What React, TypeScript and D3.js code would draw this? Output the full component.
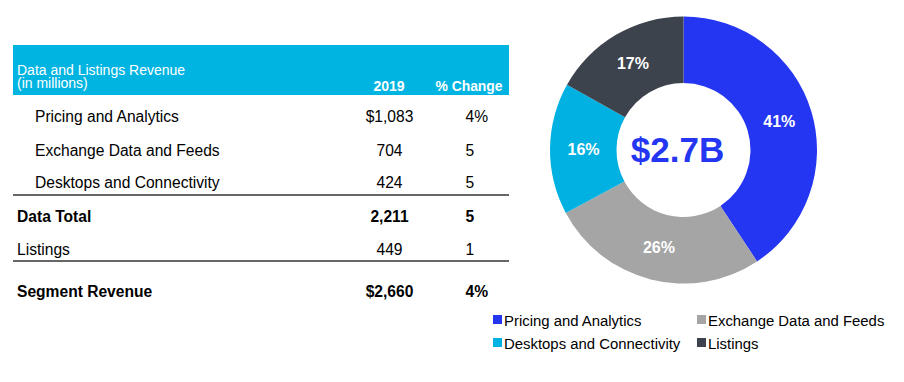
import React from "react";
import * as d3 from "d3";

const categories = ["Pricing and Analytics", "Exchange Data and Feeds", "Desktops and Connectivity", "Listings"];
const revenue2019 = [1083, 704, 424, 449];
const sliceColors = ["#2436F2", "#A5A5A5", "#00B1E1", "#3D434D"];
const centerLabel = "$2.7B";

const tableTitle = ["Data and Listings Revenue", "(in millions)"];
const tableHeaders = ["2019", "% Change"];
const rowLabels = ["Pricing and Analytics", "Exchange Data and Feeds", "Desktops and Connectivity", "Data Total", "Listings", "Segment Revenue"];
const rowValues = ["$1,083", "704", "424", "2,211", "449", "$2,660"];
const rowChanges = ["4%", "5", "5", "5", "1", "4%"];
const rowBold = [false, false, false, true, false, true];
const rowIndent = [true, true, true, false, false, false];
const rowBaselines = [121.5, 155.5, 188, 221.5, 255, 296.5];

const FONT = "Arial, 'Liberation Sans', sans-serif";

export default function App() {
  const W = 904, H = 382;
  const cx = 683.5, cy = 150, rOuter = 133.5, rInner = 67;
  const total = d3.sum(revenue2019);
  const pie = d3.pie<number>().sort(null).value((d) => d);
  const arcs = pie(revenue2019);
  const arc = d3.arc<d3.PieArcDatum<number>>().innerRadius(rInner).outerRadius(rOuter);
  const labelArc = d3.arc<d3.PieArcDatum<number>>().innerRadius(100).outerRadius(100);
  const pct = d3.format(".0%");

  const legendPos = [
    { x: 493, y: 320 },
    { x: 697, y: 320 },
    { x: 493, y: 343 },
    { x: 697, y: 343 },
  ];

  return (
    <svg width={W} height={H} viewBox={`0 0 ${W} ${H}`} style={{ position: "absolute", left: 0, top: 0, background: "#fff" }} fontFamily={FONT}>
      <rect x={0} y={0} width={W} height={H} fill="#fff" />
      {/* table header */}
      <rect x={13} y={45} width={496} height={50} fill="#00B4E1" />
      <text x={17} y={75.2} fill="#fff" fontSize={14}>{tableTitle[0]}</text>
      <text x={17} y={87.8} fill="#fff" fontSize={14}>{tableTitle[1]}</text>
      <text x={389} y={91} fill="#fff" fontSize={14} fontWeight="bold" textAnchor="middle">{tableHeaders[0]}</text>
      <text x={469} y={91} fill="#fff" fontSize={13.9} fontWeight="bold" textAnchor="middle">{tableHeaders[1]}</text>
      {rowLabels.map((lab, i) => (
        <g key={lab} fontSize={15.6} fill="#000" fontWeight={rowBold[i] ? "bold" : "normal"}>
          <text x={rowIndent[i] ? 35 : 17} y={rowBaselines[i]}>{lab}</text>
          <text x={389.5} y={rowBaselines[i]} textAnchor="middle">{rowValues[i]}</text>
          <text x={465.5} y={rowBaselines[i]}>{rowChanges[i]}</text>
        </g>
      ))}
      <line x1={13} x2={509} y1={195} y2={195} stroke="#333" strokeWidth={1.5} />
      <line x1={13} x2={509} y1={261} y2={261} stroke="#333" strokeWidth={1.5} />

      {/* donut */}
      <g transform={`translate(${cx},${cy})`}>
        {arcs.map((a, i) => (
          <path key={i} d={arc(a) || ""} fill={sliceColors[i]} />
        ))}
        {arcs.map((a, i) => {
          const [lx, ly] = labelArc.centroid(a);
          return (
            <text key={"l" + i} x={lx} y={ly} dy="0.35em" textAnchor="middle" fill="#fff" fontSize={16} fontWeight="bold">
              {pct(a.data / total)}
            </text>
          );
        })}
        <text x={-6} y={0} dy="0.35em" textAnchor="middle" fill="#2436F2" fontSize={35} fontWeight="bold">{centerLabel}</text>
      </g>

      {/* legend */}
      {categories.map((c, i) => (
        <g key={c}>
          <rect x={legendPos[i].x} y={legendPos[i].y - 5} width={9} height={9} fill={sliceColors[i]} />
          <text x={legendPos[i].x + 11} y={legendPos[i].y + 5.5} fontSize={14.9} fill="#000">{c}</text>
        </g>
      ))}
    </svg>
  );
}
